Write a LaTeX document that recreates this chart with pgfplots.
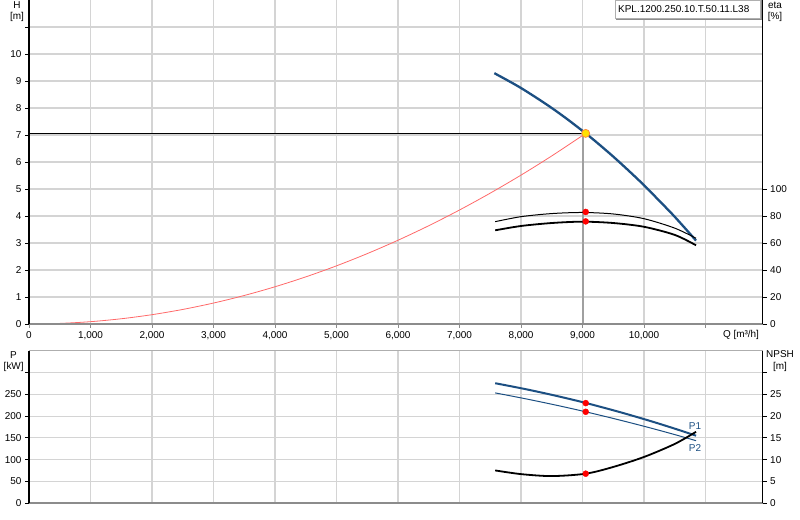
\documentclass[border=0pt]{standalone}
\usepackage{fontspec}
\setmainfont{Liberation Sans}
\usepackage{pgfplots}
\pgfplotsset{compat=1.18}
\definecolor{hblue}{RGB}{28,79,130}
\definecolor{sysred}{RGB}{255,105,105}
\definecolor{gridgray}{RGB}{212,212,212}
\definecolor{framegray}{RGB}{140,140,140}
\definecolor{opgray}{RGB}{160,160,160}
\definecolor{opyellow}{RGB}{255,225,0}
\definecolor{oporange}{RGB}{255,140,60}
\newcommand{\lbl}{\fontsize{10}{12}\selectfont}
\pgfplotsset{
  panel/.style={
    scale only axis,
    anchor=south west,
    width=733.7bp,
    xmin=0, xmax=11930,
    clip=false,
    scaled x ticks=false,
    scaled y ticks=false,
    axis line style={draw=none},
    tick align=outside,
    major tick length=4bp,
    tick label style={font=\lbl},
    /pgf/number format/assume math mode=true,
    tick style={black, line width=0.8bp},
    xtick={0,1000,2000,3000,4000,5000,6000,7000,8000,9000,10000,11000},
  },
  leftpanel/.style={
    panel,
    grid=major,
    major grid style={draw=gridgray, line width=1.2bp},
    ytick pos=left,
    xtick pos=bottom,
  },
  rightpanel/.style={
    panel,
    hide x axis,
    ytick pos=right,
    yticklabel pos=right,
  },
}
\newcommand{\drawframe}{%
  \draw[framegray!70, line width=1bp] (rel axis cs:0,1) -- (rel axis cs:1,1);
  \draw[framegray, line width=2bp] (rel axis cs:0,0) -- (rel axis cs:1,0);
  \draw[black, line width=1.2bp] (rel axis cs:0,0) -- (rel axis cs:0,1);
  \draw[black, line width=1.2bp] (rel axis cs:1,0) -- (rel axis cs:1,1);
}
\begin{document}
\begin{tikzpicture}
\useasboundingbox (0,0) rectangle (800bp,520bp);

% ---- upper panel: head ----
\begin{axis}[leftpanel,
  at={(29bp,196bp)}, height=324bp,
  ymin=0, ymax=12,
  ytick={0,1,2,3,4,5,6,7,8,9,10,11},
  yticklabels={0,1,2,3,4,5,6,7,8,9,10,{}},
  xticklabels={0,{1,000},{2,000},{3,000},{4,000},{5,000},{6,000},{7,000},{8,000},{9,000},{10,000},{}},
  xtick style={draw=framegray},
]
  % operating point guide lines
  \addplot[black, line width=0.9bp] coordinates {(0,7.06) (9052,7.06)};
  \addplot[opgray, line width=2bp] coordinates {(9010,0) (9010,7.06)};
  % system curve
  \addplot[sysred, line width=0.8bp, smooth] coordinates {
    (0,0) (500,0.022) (1000,0.086) (1500,0.194) (2000,0.345) (2500,0.539)
    (3000,0.776) (3500,1.056) (4000,1.379) (4500,1.745) (5000,2.154)
    (5500,2.607) (6000,3.102) (6500,3.640) (7000,4.222) (7500,4.847)
    (8000,5.514) (8500,6.225) (9052,7.06)
  };
  % pump curve
  \addplot[hblue, line width=2.3bp, smooth] coordinates {
    (7566,9.29) (7800,9.00) (8000,8.74) (8250,8.38) (8500,8.00) (8750,7.59)
    (9052,7.06) (9250,6.69) (9500,6.20) (9750,5.68) (10000,5.14)
    (10250,4.56) (10500,3.97) (10846,3.09)
  };
  \drawframe
\end{axis}

% ---- upper panel: efficiency ----
\begin{axis}[rightpanel,
  at={(29bp,196bp)}, height=324bp,
  ymin=0, ymax=240,
  ytick={0,20,40,60,80,100},
]
  \addplot[black, line width=1bp, smooth] coordinates {
    (7580,75.8) (8000,79.5) (8500,81.8) (9000,82.6) (9500,81.5)
    (10000,78) (10500,71) (10846,63.5)
  };
  \addplot[black, line width=1.8bp, smooth] coordinates {
    (7580,69.4) (8000,72.6) (8500,74.8) (9000,75.8) (9500,74.8)
    (10000,72) (10500,66) (10846,58.3)
  };
  \addplot[only marks, mark=*, mark size=3bp, red] coordinates {(9052,83) (9052,76)};
  % operating point (H = 7.06 m -> 141.2 on this scale)
  \addplot[only marks, mark=*, mark size=4bp,
    mark options={fill=opyellow, draw=oporange, line width=0.8bp}]
    coordinates {(9052,141.2)};
\end{axis}

% ---- lower panel: power ----
\begin{axis}[leftpanel,
  at={(29bp,17bp)}, height=152bp,
  ymin=0, ymax=350,
  ytick={0,50,100,150,200,250,300},
  yticklabels={0,50,100,150,200,250,{}},
  xticklabels={},
  xtick style={draw=none},
]
  \addplot[hblue, line width=2bp, smooth] coordinates {
    (7580,275.8) (8080,262) (8580,246.5) (9052,230.4) (9580,210.4)
    (10080,189.8) (10500,171.2) (10846,155)
  };
  \addplot[hblue, line width=1bp, smooth] coordinates {
    (7580,253.5) (8080,239.8) (8580,225) (9052,210) (9580,191.9)
    (10080,173.7) (10500,157.5) (10846,143.5)
  };
  \addplot[only marks, mark=*, mark size=3bp, red] coordinates {(9052,230) (9052,210)};
  \node[hblue, font=\lbl] at (axis cs:10829,176) {P1};
  \node[hblue, font=\lbl] at (axis cs:10829,127) {P2};
  \drawframe
\end{axis}

% ---- lower panel: NPSH ----
\begin{axis}[rightpanel,
  at={(29bp,17bp)}, height=152bp,
  ymin=0, ymax=35,
  ytick={0,5,10,15,20,25,30},
  yticklabels={0,5,10,15,20,25,{}},
]
  \addplot[black, line width=1.8bp, smooth] coordinates {
    (7580,7.5) (8000,6.65) (8500,6.2) (9052,6.75) (9500,8.3)
    (10000,10.6) (10500,13.6) (10846,16.4)
  };
  \addplot[only marks, mark=*, mark size=3bp, red] coordinates {(9052,6.75)};
\end{axis}

% ---- labels ----
\node[font=\lbl] at (17bp,515bp) {H};
\node[font=\lbl] at (17bp,503bp) {[m]};
\node[font=\lbl] at (775bp,515bp) {eta};
\node[font=\lbl] at (775bp,503bp) {[\%]};
\node[font=\lbl] at (741bp,185bp) {Q [m³/h]};
\node[font=\lbl] at (13.5bp,165bp) {P};
\node[font=\lbl] at (13.7bp,153bp) {[kW]};
\node[font=\lbl] at (780bp,166bp) {NPSH};
\node[font=\lbl] at (780bp,153bp) {[m]};

% ---- pump designation box ----
\draw[framegray, line width=1.5bp] (616bp,500.5bp) -- (761bp,500.5bp) -- (761bp,520bp);
\filldraw[fill=white, draw=framegray!70, line width=0.8bp] (615bp,501.5bp) rectangle (760bp,520bp);
\node[font=\lbl, anchor=west, inner sep=0pt] at (618bp,510.5bp) {KPL.1200.250.10.T.50.11.L38};
\end{tikzpicture}
\end{document}
